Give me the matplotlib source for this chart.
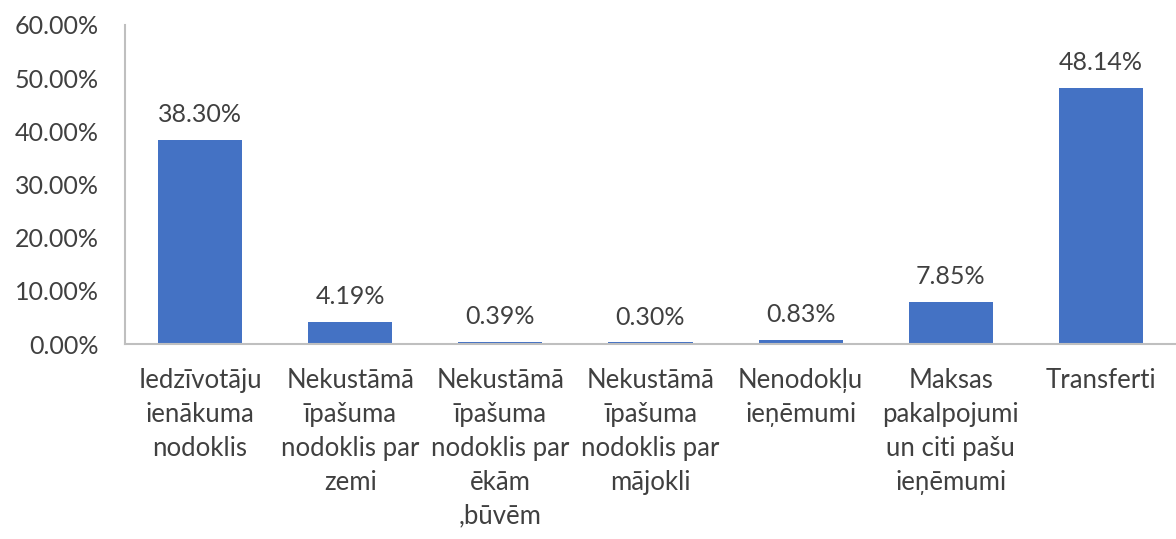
import matplotlib.pyplot as plt
from matplotlib.ticker import PercentFormatter

categories = [
    "Iedzīvotāju\nienākuma\nnodoklis",
    "Nekustāmā\nīpašuma\nnodoklis par\nzemi",
    "Nekustāmā\nīpašuma\nnodoklis par\nēkām\n,būvēm",
    "Nekustāmā\nīpašuma\nnodoklis par\nmājokli",
    "Nenodokļu\nieņēmumi",
    "Maksas\npakalpojumi\nun citi pašu\nieņēmumi",
    "Transferti",
]
shares = [38.30, 4.19, 0.39, 0.30, 0.83, 7.85, 48.14]
yticks = [0, 10, 20, 30, 40, 50, 60]

plt.rcParams['font.family'] = ['Lato', 'DejaVu Sans']
txt = '#404040'

fig = plt.figure(figsize=(11.76, 5.39), dpi=100)
ax = fig.add_axes([125 / 1176, 1 - 344 / 539, 1051 / 1176, 319 / 539])

x = range(len(categories))
bars = ax.bar(x, shares, width=0.56, color='#4472C4')
for b, v in zip(bars, shares):
    ax.annotate(f"{v:.2f}%", (b.get_x() + b.get_width() / 2, v),
                xytext=(0, 10), textcoords='offset points',
                ha='center', va='bottom', fontsize=18, color=txt)

ax.set_xlim(-0.5, len(categories) - 0.5)
ax.set_ylim(0, 60)
ax.set_yticks(yticks)
ax.yaxis.set_major_formatter(PercentFormatter(decimals=2))
ax.set_xticks(list(x))
ax.set_xticklabels(categories, fontsize=18.5, color=txt, linespacing=1.45)
ax.tick_params(axis='y', labelsize=18, labelcolor=txt, length=0, pad=19)
ax.tick_params(axis='x', length=0, pad=17)

for s in ['top', 'right']:
    ax.spines[s].set_visible(False)
for s in ['left', 'bottom']:
    ax.spines[s].set_color('#bfbfbf')
    ax.spines[s].set_linewidth(1.5)

fig.savefig('out.png', dpi=100)
